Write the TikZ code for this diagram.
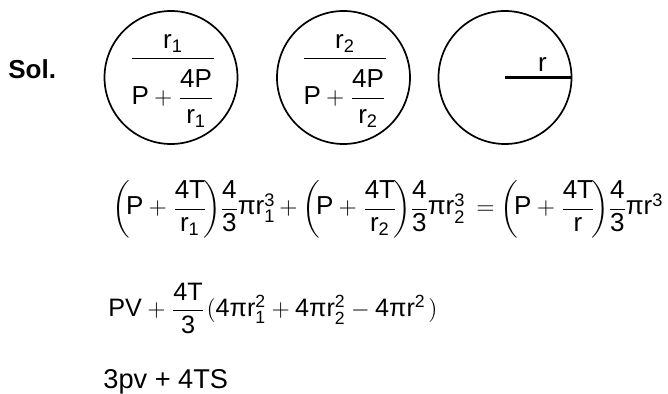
\documentclass[tikz,border=0pt]{standalone}
\usepackage{amsmath}
\usepackage{fontspec}
\setmainfont{Liberation Sans}
\setmathrm{Liberation Sans}
\newcommand\m[1]{\mathrm{#1}}
\newcommand\pii{\mbox{π}}
\newcommand\grp[2]{\left(\mkern-3mu\m{P}+\dfrac{\m{4T}}{#1}\mkern-3mu\right)\mkern-4mu\dfrac{\m4}{\m3}\mkern-1mu\pii\m{r}#2}
\newcommand\ringfrac[1]{\dfrac{\m{r}_{\m#1}\rule[-1pt]{0pt}{0pt}}{\rule{0pt}{21pt}\m{P}+\dfrac{\m{4P}\rule[-1.5pt]{0pt}{0pt}}{\rule{0pt}{11pt}\m{r}_{\m#1}}}}
\tikzset{
  ring/.style={circle, draw, line width=0.85pt, minimum size=66.5pt, inner sep=0pt},
  eqline/.style={anchor=base west, inner sep=0pt},
  fracnode/.style={anchor=base, inner sep=0pt},
  radline/.style={line width=1.3pt},
}
\begin{document}
\begin{tikzpicture}[x=0.5pt,y=-0.5pt]
\fontsize{13}{15}\selectfont
\useasboundingbox[fill=white] (0,0) rectangle (668,394);
\node[anchor=base west, inner sep=0pt, font=\bfseries] (sol) at (8,79) {Sol.};
\node[ring] (c1) at (171,77.5) {};
\node[ring] (c2) at (343.5,77.5) {};
\node[ring] (c3) at (505,77.5) {};
\node[fracnode] (f1) at (173,64.7) {$\ringfrac1$};
\node[fracnode] (f2) at (345,64.7) {$\ringfrac2$};
\draw[radline] (c3.center) -- (c3.east);
\node[fracnode] (rl) at (542.5,72) {r};
\node[eqline] (e1a) at (112,215) {$\grp{\m{r}_{\m1}}{_{\m1}^{\m3}}$};
\node[eqline] (e1p) at (279,215) {$+$};
\node[eqline] (e1b) at (302,215) {$\grp{\m{r}_{\m2}}{_{\m2}^{\m3}}$};
\node[eqline] (e1q) at (476,215) {$=$};
\node[eqline] (e1c) at (500,215) {$\grp{\m{r}}{^{\m3}}$};
\node[eqline, font=\fontsize{12.6}{15}\selectfont] (e2) at (108,316.7) {$\m{PV}+\dfrac{\m{4T}}{\m3}\mkern1mu(\m4\pii\m{r}_{\m1}^{\m2}+\m4\pii\m{r}_{\m2}^{\m2}-\m4\pii\m{r}^{\m2}\mkern2mu)$};
\node[eqline, font=\fontsize{13.6}{16}\selectfont] (e3) at (103,388.3) {3pv + 4TS};
\end{tikzpicture}
\end{document}
